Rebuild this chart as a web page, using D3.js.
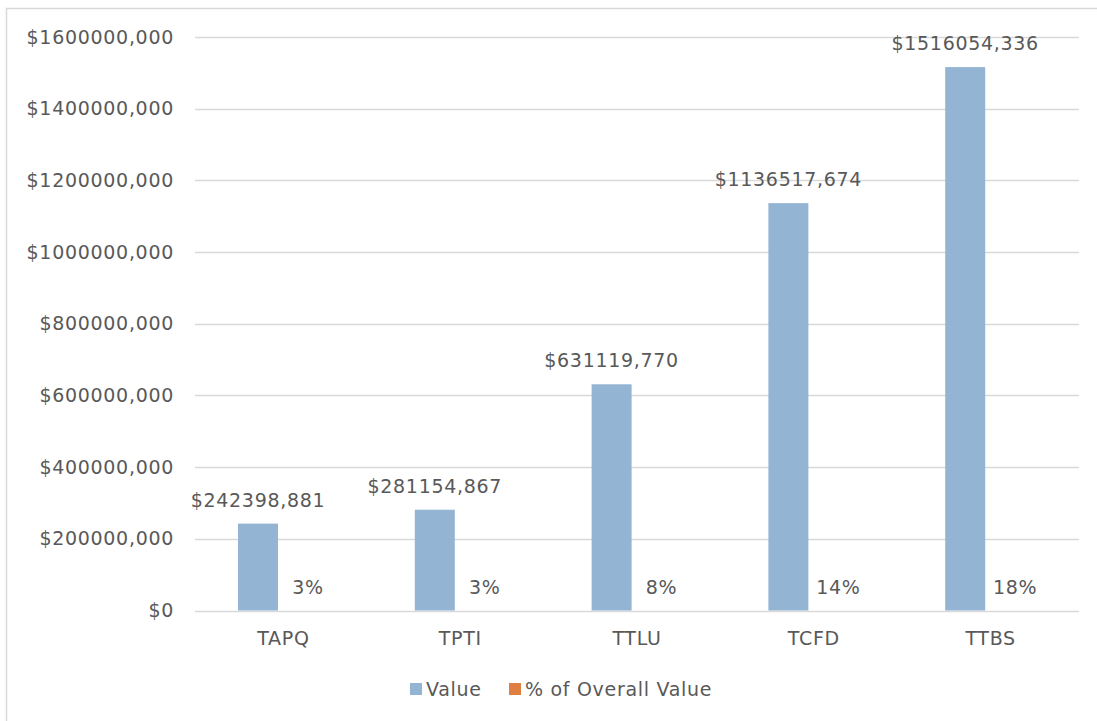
<!DOCTYPE html>
<html>
<head>
<meta charset="utf-8">
<script src="https://cdn.jsdelivr.net/npm/d3@7"></script>
<style>
  body { margin: 0; background: #fff; }
  text { font-family: "DejaVu Sans", sans-serif; fill: #595959; letter-spacing: 0.7px; }
</style>
</head>
<body>
<svg id="chart" width="1097" height="721"></svg>
<script>
// data
var categories = ["TAPQ", "TPTI", "TTLU", "TCFD", "TTBS"];
var values = [242398881, 281154867, 631119770, 1136517674, 1516054336];
var percents = [3, 3, 8, 14, 18];
var seriesNames = ["Value", "% of Overall Value"];
var yTicks = [0, 200000000, 400000000, 600000000, 800000000, 1000000000, 1200000000, 1400000000, 1600000000];

var colors = ["#94B4D4", "#E07F42"];
var fontSize = "19px";

const svg = d3.select("#chart");

// chart border (runs off the picture on the right and bottom)
svg.append("rect")
  .attr("x", 6.5).attr("y", 8.5)
  .attr("width", 1200).attr("height", 800)
  .attr("fill", "none")
  .attr("stroke", "#D9D9D9")
  .attr("stroke-width", 1.5);

var plotLeft = 195, plotRight = 1079, plotTop = 37, plotBottom = 610.5;

var x = d3.scaleBand().domain(categories).range([plotLeft, plotRight]);
// the two bars of each group, offset inside the band
var xs = d3.scaleBand().domain(seriesNames).range([43, 123]);
var y = d3.scaleLinear().domain([0, 1600000000]).range([plotBottom, plotTop]);

function money(v) {
  if (v == 0) return "$0";
  var rest = v % 1000;
  return "$" + Math.floor(v / 1000) + "," + String(rest).padStart(3, "0");
}

// gridlines
svg.append("g")
  .selectAll("line")
  .data(yTicks)
  .enter()
  .append("line")
  .attr("x1", plotLeft).attr("x2", plotRight)
  .attr("y1", d => Math.round(y(d)) + 0.5)
  .attr("y2", d => Math.round(y(d)) + 0.5)
  .attr("stroke", "#D9D9D9")
  .attr("stroke-width", 1.3);

// y axis labels
var yAxis = svg.append("g")
  .attr("transform", "translate(" + plotLeft + ",0)")
  .call(d3.axisLeft(y).tickValues(yTicks).tickFormat(money).tickSize(0).tickPadding(21));
yAxis.select(".domain").remove();
yAxis.selectAll("text")
  .style("font-family", "DejaVu Sans, sans-serif")
  .style("font-size", fontSize)
  .attr("fill", "#595959");

// category labels
var xAxis = svg.append("g")
  .attr("transform", "translate(0," + plotBottom + ")")
  .call(d3.axisBottom(x).tickSize(0).tickPadding(21));
xAxis.select(".domain").remove();
xAxis.selectAll("text")
  .style("font-family", "DejaVu Sans, sans-serif")
  .style("font-size", fontSize)
  .attr("fill", "#595959");

// value bars
svg.append("g")
  .selectAll("rect")
  .data(values)
  .enter()
  .append("rect")
  .attr("x", (d, i) => x(categories[i]) + xs("Value"))
  .attr("width", xs.bandwidth())
  .attr("y", d => y(d))
  .attr("height", d => y(0) - y(d))
  .attr("fill", colors[0]);

// percent bars (fractions of a dollar on this scale, so no height)
svg.append("g")
  .selectAll("rect")
  .data(percents)
  .enter()
  .append("rect")
  .attr("x", (d, i) => x(categories[i]) + xs("% of Overall Value"))
  .attr("width", xs.bandwidth())
  .attr("y", d => y(d / 100))
  .attr("height", d => y(0) - y(d / 100))
  .attr("fill", colors[1]);

// value labels
svg.append("g")
  .selectAll("text")
  .data(values)
  .enter()
  .append("text")
  .attr("x", (d, i) => x(categories[i]) + xs("Value") + xs.bandwidth() / 2)
  .attr("y", d => y(d) - 17)
  .attr("text-anchor", "middle")
  .style("font-size", fontSize)
  .text(money);

// percent labels
svg.append("g")
  .selectAll("text")
  .data(percents)
  .enter()
  .append("text")
  .attr("x", (d, i) => x(categories[i]) + xs("% of Overall Value") + xs.bandwidth() / 2 + 10)
  .attr("y", d => y(d / 100) - 17)
  .attr("text-anchor", "middle")
  .style("font-size", fontSize)
  .text(d => d + "%");

// legend
var legend = svg.append("g");
var legendX = [410, 509];
seriesNames.forEach(function (name, i) {
  legend.append("rect")
    .attr("x", legendX[i]).attr("y", 683)
    .attr("width", 12).attr("height", 12)
    .attr("fill", colors[i]);
  legend.append("text")
    .attr("x", legendX[i] + 16)
    .attr("y", 689)
    .attr("dy", "0.35em")
    .style("font-size", fontSize)
    .text(name);
});
</script>
</body>
</html>
